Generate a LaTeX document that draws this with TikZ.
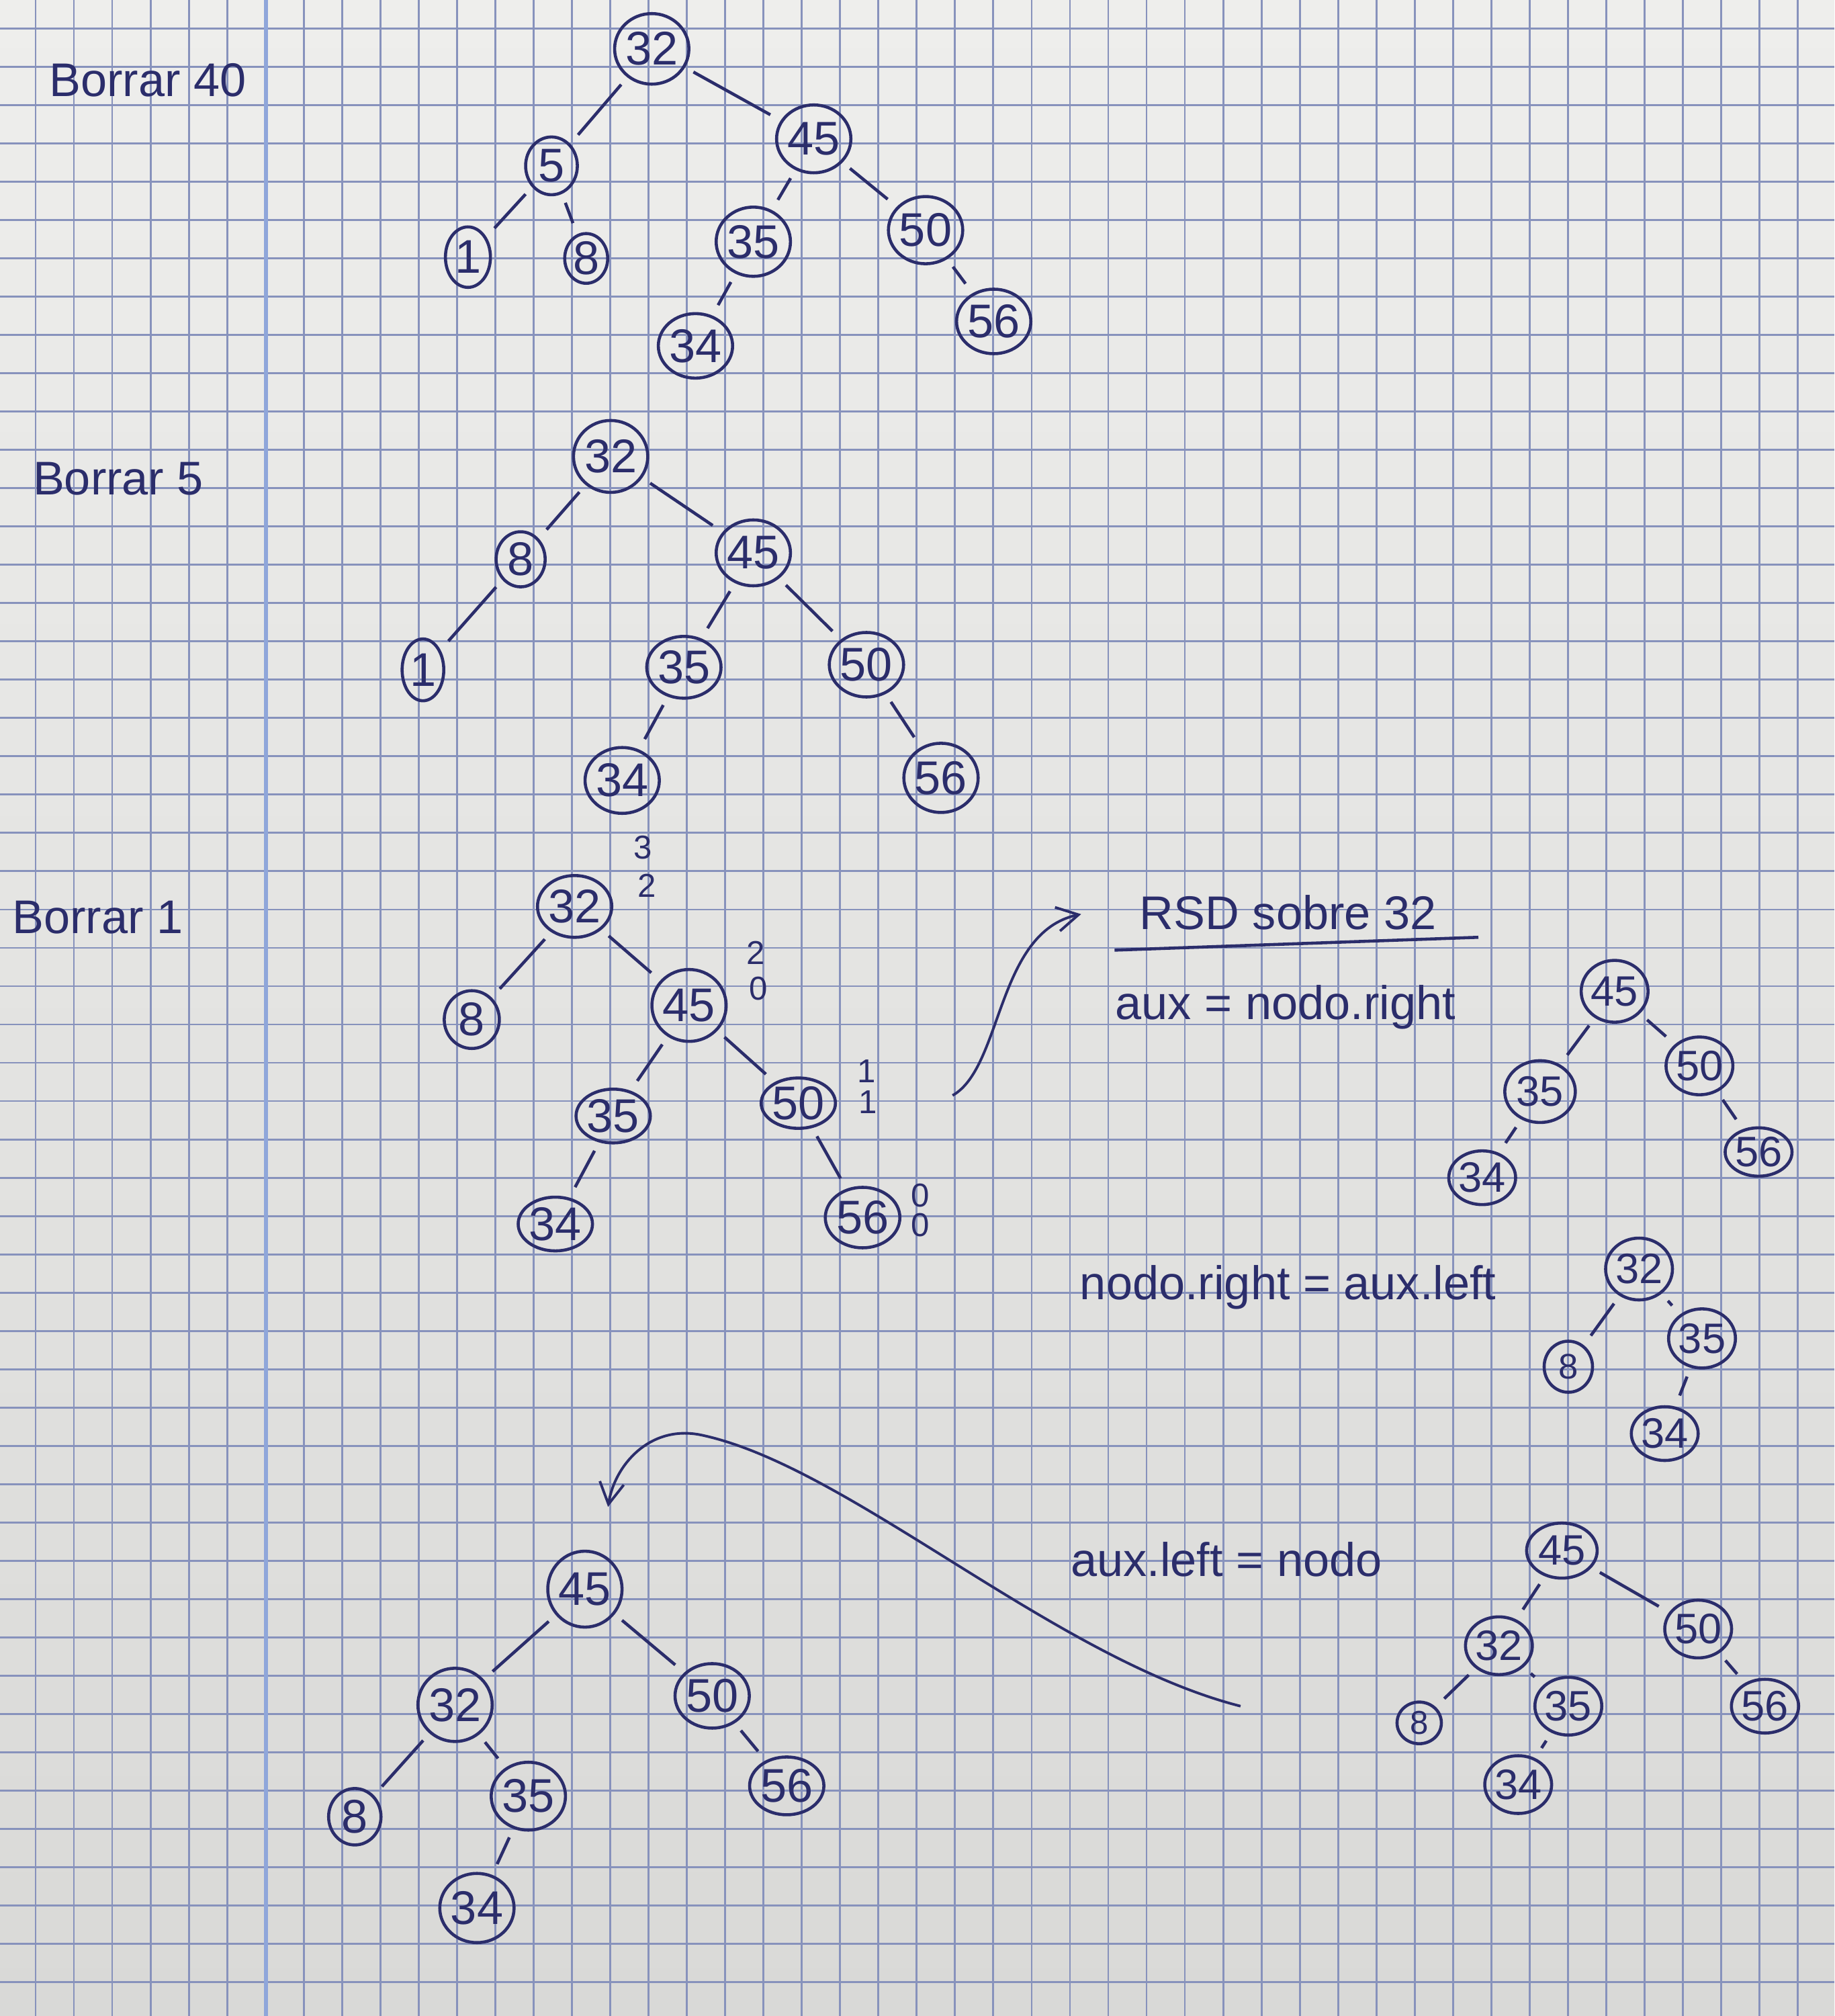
\documentclass[tikz,border=0pt]{standalone}
\usepackage{fontspec}
\setmainfont{Liberation Sans}
\usetikzlibrary{arrows.meta,shapes.geometric}
\definecolor{tinta}{HTML}{2B2D6B}
\definecolor{papel}{HTML}{EEEEEC}
\definecolor{papelb}{HTML}{D9D9D7}
\definecolor{cuad}{HTML}{8792BC}
\definecolor{margen}{HTML}{8FA6DA}
\tikzset{
  nodo/.style={ellipse, draw=tinta, line width=1.3pt, inner sep=0pt, text=tinta, font=\fontsize{20}{22}\selectfont, minimum width=1.0cm, minimum height=1.0cm},
  nodoc/.style={nodo, minimum width=0.72cm, minimum height=0.9cm},
  nodoa/.style={nodo, minimum width=1.0cm, minimum height=0.86cm, font=\fontsize{18}{20}\selectfont},
  tam/.style 2 args={minimum width=#1cm, minimum height=#2cm},
  rama/.style={draw=tinta, line width=1.3pt, shorten <=4pt, shorten >=5pt},
  fb/.style={text=tinta, font=\fontsize{14}{16}\selectfont, inner sep=0pt},
  texto/.style={text=tinta, font=\fontsize{20}{24}\selectfont, inner sep=0pt, anchor=base},
  flecha/.style={draw=tinta, line width=1.1pt, -{Straight Barb[length=3.2mm,width=3.6mm]}},
  cuadricula/.style={draw=cuad, line width=0.8pt},
}
\begin{document}
\begin{tikzpicture}[x=0.019138cm,y=-0.019138cm]
\useasboundingbox (0,0) rectangle (1427,1568);
% hoja cuadriculada
\fill[top color=papel, bottom color=papelb] (0,0) rectangle (1427,1568);
\foreach \i in {0,...,47} \draw[cuadricula] ({27.7+29.8*\i},0) -- ({27.7+29.8*\i},1568);
\foreach \j in {0,...,52} \draw[cuadricula] (0,{22+29.8*\j}) -- (1427,{22+29.8*\j});
\draw[margen, line width=1.8pt] (207,0) -- (207,1568);

% Borrar 40
\node[texto] (t40) at (115,75) {Borrar 40};
\node[nodo, tam={.92}{1.05}] (a32) at (507,38) {32};
\node[nodoc, tam={.77}{.86}] (a5) at (429,129) {5};
\node[nodo, tam={1.09}{1.01}] (a45) at (633,108) {45};
\node[nodoc, tam={.67}{.9}] (a1) at (364,200) {1};
\node[nodoc, tam={.64}{.74}] (a8) at (456,201) {8};
\node[nodo, tam={.86}{1.03}] (a35) at (586,188) {35};
\node[nodo, tam={.84}{1.0}] (a50) at (720,179) {50};
\node[nodo, tam={.74}{.96}] (a34) at (541,269) {34};
\node[nodo, tam={.94}{.96}] (a56) at (773,250) {56};
\foreach \p/\h in {a32/a5, a32/a45, a5/a1, a5/a8, a45/a35, a45/a50, a35/a34, a50/a56}
  \draw[rama] (\p) -- (\h);

% Borrar 5
\node[texto] (t5) at (92,385) {Borrar 5};
\node[nodo, tam={1.1}{1.07}] (b32) at (475,355) {32};
\node[nodoc, tam={.73}{.82}] (b8) at (405,435) {8};
\node[nodo, tam={.9}{.98}] (b45) at (586,430) {45};
\node[nodoc, tam={.62}{.92}] (b1) at (329,521) {1};
\node[nodo, tam={1.01}{.92}] (b35) at (532,519) {35};
\node[nodo, tam={1.0}{.96}] (b50) at (674,517) {50};
\node[nodo, tam={.92}{.98}] (b34) at (484,607) {34};
\node[nodo, tam={1.05}{1.03}] (b56) at (732,605) {56};
\foreach \p/\h in {b32/b8, b32/b45, b8/b1, b45/b35, b45/b50, b35/b34, b50/b56}
  \draw[rama] (\p) -- (\h);

% Borrar 1
\node[texto] (t1) at (76,726) {Borrar 1};
\node[nodo, tam={.92}{.92}] (c32) at (447,705) {32};
\node[nodoc, tam={.82}{.86}] (c8) at (367,793) {8};
\node[nodo, tam={1.09}{1.07}] (c45) at (536,782) {45};
\node[nodo, tam={.96}{.8}] (c35) at (477,868) {35};
\node[nodo, tam={.92}{.75}] (c50) at (621,858) {50};
\node[nodo, tam={.92}{.8}] (c34) at (432,952) {34};
\node[nodo, tam={1.11}{.9}] (c56) at (671,947) {56};
\foreach \p/\h in {c32/c8, c32/c45, c45/c35, c45/c50, c35/c34, c50/c56}
  \draw[rama] (\p) -- (\h);
% alturas
\node[fb] (h32a) at (500,659) {3};
\node[fb] (h32b) at (503,689) {2};
\node[fb] (h45a) at (588,741) {2};
\node[fb] (h45b) at (590,769) {0};
\node[fb] (h50a) at (674,833) {1};
\node[fb] (h50b) at (675,857) {1};
\node[fb] (h56a) at (716,930) {0};
\node[fb] (h56b) at (716,953) {0};

% rotacion
\coordinate (f1a) at (741,852);
\coordinate (f1b) at (841,711);
\draw[flecha] (f1a) .. controls (780,830) and (775,725) .. (f1b);
\node[texto] (rsd) at (1002,723) {RSD sobre 32};
\draw[draw=tinta, line width=1.3pt] (867,739) -- (1150,729);
\node[texto] (paso1) at (1000,793) {aux = nodo.right};
\node[texto] (paso2) at (1002,1011) {nodo.right = aux.left};
\node[texto] (paso3) at (954,1226) {aux.left = nodo};

% aux
\node[nodoa, tam={.86}{.92}] (d45) at (1256,771) {45};
\node[nodoa, tam={1.05}{.92}] (d35) at (1198,849) {35};
\node[nodoa, tam={.88}{.86}] (d50) at (1322,829) {50};
\node[nodoa, tam={.8}{.8}] (d34) at (1153,916) {34};
\node[nodoa, tam={.9}{.72}] (d56) at (1368,896) {56};
\foreach \p/\h in {d45/d35, d45/d50, d35/d34, d50/d56}
  \draw[rama] (\p) -- (\h);

% nodo
\node[nodoa, tam={.92}{.92}] (e32) at (1275,987) {32};
\node[nodoa, tam={.72}{.76}, font=\fontsize{15}{17}\selectfont] (e8) at (1220,1063) {8};
\node[nodoa, tam={.96}{.88}] (e35) at (1324,1041) {35};
\node[nodoa, tam={.9}{.8}] (e34) at (1295,1115) {34};
\foreach \p/\h in {e32/e8, e32/e35, e35/e34}
  \draw[rama] (\p) -- (\h);

% resultado
\node[nodoa, tam={1.05}{.82}] (g45) at (1215,1206) {45};
\node[nodoa, tam={.94}{.86}] (g32) at (1166,1280) {32};
\node[nodoa, tam={.96}{.86}] (g50) at (1321,1267) {50};
\node[nodoa, tam={.66}{.62}, font=\fontsize{14}{16}\selectfont] (g8) at (1104,1340) {8};
\node[nodoa, tam={.96}{.86}] (g35) at (1220,1327) {35};
\node[nodoa, tam={1.0}{.8}] (g56) at (1373,1327) {56};
\node[nodoa, tam={.96}{.86}] (g34) at (1181,1388) {34};
\foreach \p/\h in {g45/g32, g45/g50, g32/g8, g32/g35, g35/g34, g50/g56}
  \draw[rama] (\p) -- (\h);

% arbol final
\node[nodo, tam={1.03}{1.13}] (k45) at (455,1236) {45};
\node[nodo, tam={1.03}{1.09}] (k32) at (354,1326) {32};
\node[nodo, tam={1.05}{.96}] (k50) at (554,1319) {50};
\node[nodoc, tam={.78}{.84}] (k8) at (276,1413) {8};
\node[nodo, tam={1.05}{1.01}] (k35) at (411,1397) {35};
\node[nodo, tam={1.05}{.86}] (k56) at (612,1389) {56};
\node[nodo, tam={1.09}{1.03}] (k34) at (371,1484) {34};
\foreach \p/\h in {k45/k32, k45/k50, k32/k8, k32/k35, k35/k34, k50/k56}
  \draw[rama] (\p) -- (\h);
\coordinate (f2a) at (965,1327);
\coordinate (f2b) at (473,1172);
\draw[flecha] (f2a) .. controls (820,1290) and (660,1140) .. (545,1116) .. controls (505,1108) and (478,1140) .. (f2b);
\end{tikzpicture}
\end{document}
